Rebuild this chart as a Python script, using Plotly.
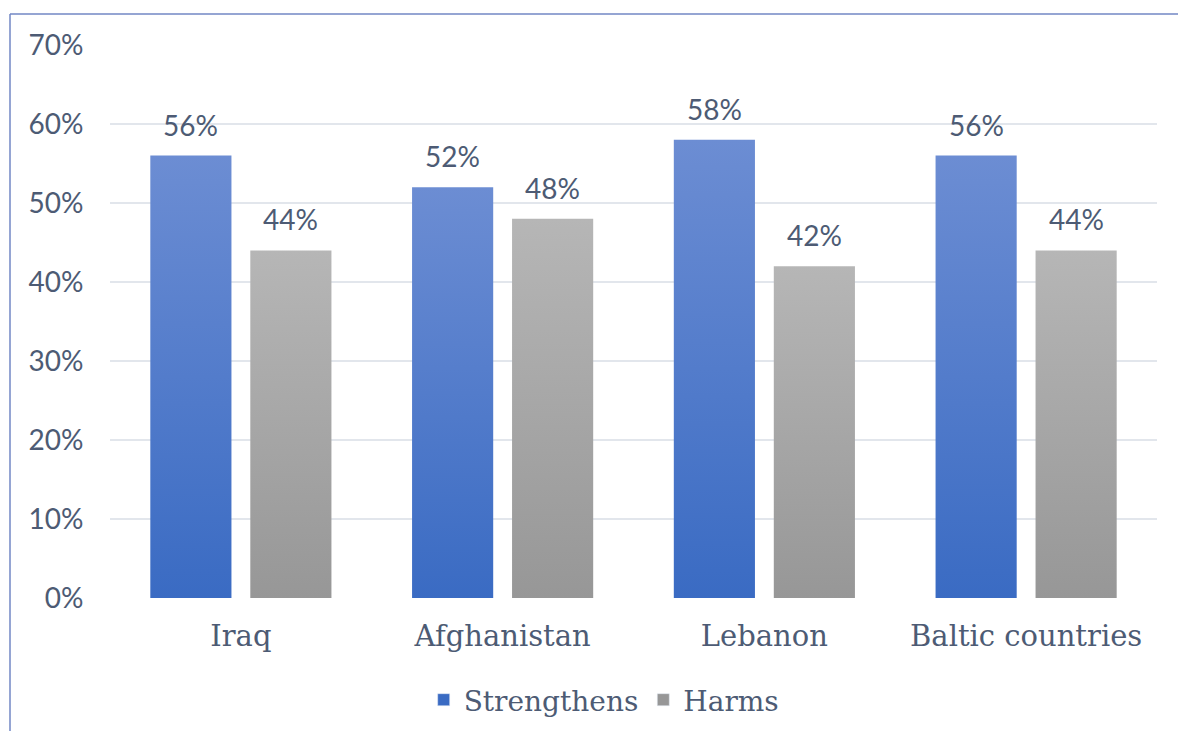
import plotly.graph_objects as go

# Survey results by mission
categories = ["Iraq", "Afghanistan", "Lebanon", "Baltic countries"]
strengthens = [56, 52, 58, 56]
harms = [44, 48, 42, 44]
y_ticks = [0, 10, 20, 30, 40, 50, 60, 70]
y_tick_labels = [f"{t}%" for t in y_ticks]

TEXT = "#4d5b74"
NUM_FONT = "Lato"
CAT_FONT = "DejaVu Serif"
GRID = "#e2e6ec"

series = [
    dict(name="Strengthens", values=strengthens, top="#6c8dd3", bottom="#3a6bc3", side=-1),
    dict(name="Harms", values=harms, top="#b6b6b6", bottom="#979797", side=1),
]

# bar placement inside each category slot (in category units)
INNER = 0.036
OUTER = 0.346

fig = go.Figure()

for s in series:
    for i, v in enumerate(s["values"]):
        a = i + s["side"] * INNER
        b = i + s["side"] * OUTER
        x0, x1 = min(a, b), max(a, b)
        val = v / 100
        fig.add_trace(go.Scatter(
            x=[x0, x1, x1, x0, x0],
            y=[0, 0, val, val, 0],
            mode="lines",
            line=dict(width=0),
            fill="toself",
            fillgradient=dict(
                type="vertical",
                colorscale=[[0, s["bottom"]], [1, s["top"]]],
            ),
            hoverinfo="skip",
            showlegend=False,
        ))
        fig.add_annotation(
            x=(x0 + x1) / 2, y=val, text=f"{v}%",
            showarrow=False, yanchor="middle", yshift=31,
            font=dict(family=NUM_FONT, size=28, color=TEXT),
        )
    # legend entry
    fig.add_trace(go.Bar(
        x=[None], y=[None], name=s["name"],
        marker=dict(color=s["bottom"]),
        showlegend=True,
    ))

W, H = 1178, 731
L, R, T, B = 110, 21, 45, 133
pw, ph = W - L - R, H - T - B

# chart-area border (left and top edges)
bx = (10 - L) / pw
by = 1 + (T - 14) / ph
fig.add_shape(type="line", xref="paper", yref="paper",
              x0=bx, x1=bx, y0=-(B + 5) / ph, y1=by,
              line=dict(color="#7287c4", width=1.5))
fig.add_shape(type="line", xref="paper", yref="paper",
              x0=bx, x1=1 + (R + 5) / pw, y0=by, y1=by,
              line=dict(color="#7287c4", width=1.5))

fig.update_layout(
    width=W, height=H,
    margin=dict(l=L, r=R, t=T, b=B, autoexpand=False),
    plot_bgcolor="white", paper_bgcolor="white",
    barmode="group",
    showlegend=True,
    legend=dict(
        orientation="h", xanchor="center", x=0.472,
        yanchor="middle", y=-(700 - (T + ph)) / ph,
        font=dict(family=CAT_FONT, size=28, color=TEXT),
        itemwidth=30, traceorder="normal",
    ),
    xaxis=dict(
        range=[-0.5, 3.5],
        tickmode="array", tickvals=list(range(len(categories))),
        ticktext=categories,
        showgrid=False, zeroline=False, showline=False,
        ticks="outside", ticklen=12, tickcolor="rgba(0,0,0,0)",
        tickfont=dict(family=CAT_FONT, size=29, color=TEXT),
        fixedrange=True,
    ),
    yaxis=dict(
        range=[0, 0.7],
        tickmode="array", tickvals=[t / 100 for t in y_ticks],
        ticktext=y_tick_labels,
        showgrid=True, gridcolor=GRID, gridwidth=2,
        zeroline=False, showline=False,
        ticks="outside", ticklen=20, tickcolor="rgba(0,0,0,0)",
        tickfont=dict(family=NUM_FONT, size=28, color=TEXT),
        fixedrange=True,
    ),
)

fig.write_html("out.html")
